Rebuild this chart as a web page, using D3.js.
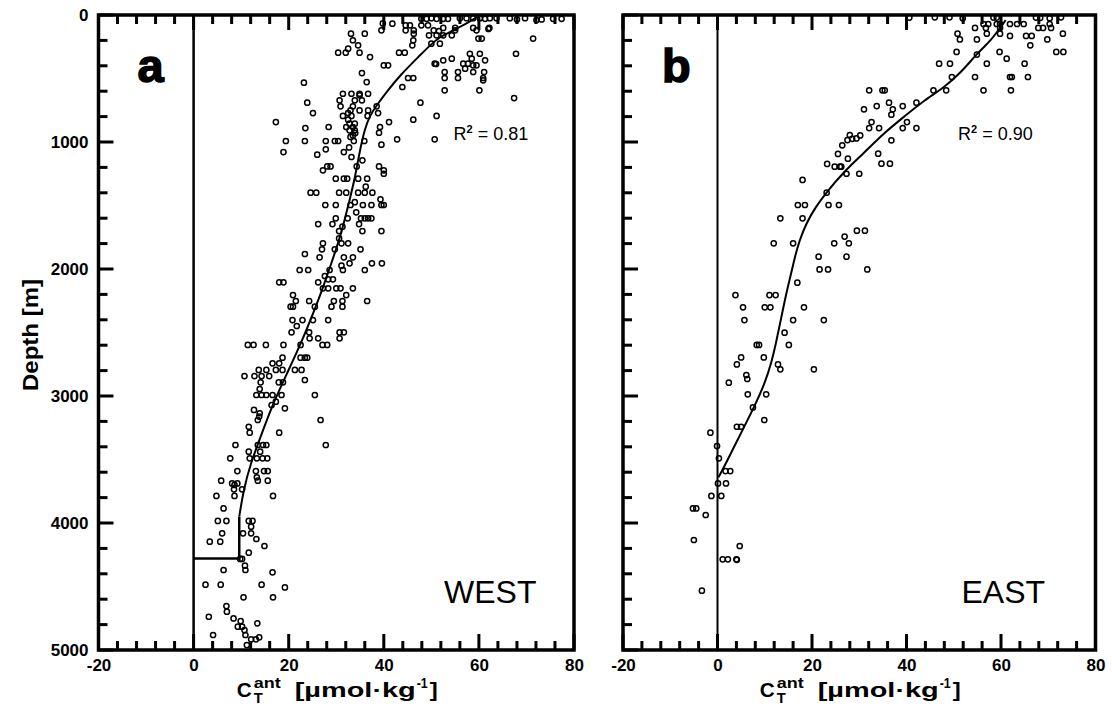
<!DOCTYPE html>
<html><head><meta charset="utf-8">
<script src="https://cdn.jsdelivr.net/npm/d3@7"></script>
<style>body{margin:0;background:#fff}text{font-family:"Liberation Sans",Arial,sans-serif}</style>
</head><body><svg id="c" width="1112" height="710"></svg>
<script>
// ---------- data ----------
const xMajorTicks = [-20, 0, 20, 40, 60, 80];
const yMajorTicks = [0, 1000, 2000, 3000, 4000, 5000];
const xMinorStep = 4;
const yMinorStep = 200;
const panelLetters = ["a", "b"];
const regionNames = ["WEST", "EAST"];
const r2Values = ["0.81", "0.90"];

// WEST: [C_T^ant, depth]
const westPoints = [
[39.8,66],[41.8,68],[44.6,81],[45.5,81],[47.9,81],[49.3,81],[47.9,30],[49.0,30],[50.0,25],
[51.1,30],[52.5,30],[53.5,30],[56.0,25],[57.4,25],[58.8,25],[60.2,25],[61.3,30],[62.3,25],[63.7,25],[66.5,25],[68.0,35],[69.7,25],[72.1,40],[73.2,35],[75.6,30],[77.4,30],
[52.5,102],[55.0,102],[58.8,102],[62.0,110],[62.2,102],
[39.5,121],[44.6,121],[46.3,121],[50.5,121],[51.6,126],[55.0,121],[59.5,121],
[33.1,147],[36.0,147],[46.3,147],[49.5,160],[51.1,160],[52.5,160],[54.3,160],
[33.5,199],[46.2,199],[59.9,186],[60.6,186],[71.4,186],
[34.6,239],[46.0,239],[50.0,226],[51.8,226],[32.5,265],
[30.4,297],[32.0,297],[34.9,297],[43.2,297],[44.4,297],
[58.1,305],[60.2,305],[67.8,305],[37.1,331],
[54.3,344],[58.5,344],[52.5,357],[61.3,357],
[50.7,383],[51.0,386],[56.7,383],[57.7,383],[40.0,396],[40.9,396],[58.8,396],[59.5,396],[57.1,423],
[52.8,449],[55.6,449],[58.8,449],[61.1,449],[35.4,457],
[45.1,496],[46.2,496],[52.8,496],[55.6,496],[60.9,496],[60.9,514],
[36.4,528],[23.2,533],[43.9,567],[52.8,593],[60.1,593],
[31.4,620],[33.2,620],[34.9,620],[36.7,620],[34.9,632],
[30.7,672],[33.9,672],[35.4,672],[23.9,690],[47.7,690],[67.4,654],
[30.9,719],[33.5,719],[38.5,719],[33.0,751],[34.9,751],[36.7,751],
[25.1,772],[32.5,772],[38.8,772],[31.4,795],[33.2,795],[36.6,795],[51.1,795],
[32.5,824],[46.2,824],[17.3,843],[41.1,843],[32.8,856],[33.9,856],
[28.4,882],[32.1,882],[33.5,882],[39.2,882],[23.5,890],
[32.8,908],[33.9,908],[39.0,927],[33.5,948],[33.0,960],[34.0,930],
[42.8,979],[50.7,979],
[19.4,992],[23.4,992],[27.8,992],[29.7,992],[30.4,992],[33.7,992],[35.9,992],
[39.5,1021],[32.7,1043],[27.8,1058],[18.9,1079],[31.6,1079],[26.0,1100],[33.2,1118],[35.5,1144],
[28.1,1192],[28.8,1192],[34.3,1192],[39.0,1192],
[27.2,1223],[40.0,1223],[40.0,1250],
[29.9,1289],[31.6,1289],[32.3,1289],[34.6,1289],[36.5,1289],
[36.2,1352],
[24.6,1399],[25.8,1399],[30.6,1399],[32.1,1399],[34.6,1399],[36.0,1399],[37.6,1399],
[39.3,1451],[33.9,1474],
[27.7,1496],[29.9,1496],[33.0,1496],[35.6,1496],[37.4,1496],[39.5,1496],[40.0,1496],
[34.2,1554],
[29.9,1601],[32.4,1601],[35.2,1601],[36.0,1601],[36.7,1601],[37.4,1601],
[26.2,1646],[29.2,1646],[34.8,1646],[31.3,1667],
[30.6,1701],[35.5,1701],[39.5,1701],[30.6,1759],
[27.2,1798],[31.1,1798],[32.5,1798],[27.0,1845],[29.7,1845],[35.1,1845],
[23.4,1882],[26.5,1908],[31.6,1908],[33.5,1908],
[32.8,1955],[39.6,1955],[37.5,1955],[31.1,1974],
[22.3,2008],[24.1,2008],[28.6,2008],[31.4,2008],[36.0,2008],
[27.6,2055],[29.3,2081],[28.3,2081],[18.0,2105],[18.9,2105],[26.2,2105],
[27.2,2152],[28.3,2152],[30.0,2152],[30.9,2152],[33.5,2152],
[20.9,2205],[32.1,2205],
[21.5,2252],[24.3,2252],[29.5,2252],[31.3,2252],[36.5,2252],
[20.4,2297],[20.9,2297],[25.5,2297],[29.0,2297],[31.3,2297],
[20.8,2402],[22.9,2402],[25.1,2402],[28.3,2402],[21.7,2449],
[20.6,2499],[24.3,2499],[30.7,2499],[31.6,2499],
[24.4,2546],[26.2,2546],[30.7,2546],
[11.4,2598],[12.6,2598],[15.2,2598],[18.9,2598],[22.5,2598],[27.1,2598],[28.1,2598],
[18.7,2698],[22.5,2698],[23.4,2698],[23.9,2698],[16.6,2743],[18.0,2743],
[13.7,2795],[15.3,2795],[17.3,2795],[18.7,2795],[21.3,2795],[22.7,2795],
[10.7,2843],[12.8,2843],[14.3,2843],[15.9,2843],[23.4,2874],
[14.1,2892],[17.9,2892],[18.8,2892],[13.9,2945],
[13.2,2992],[14.3,2992],[15.3,2992],[16.6,2992],[18.5,2992],[25.5,2992],
[17.3,3045],[16.4,3071],[19.2,3097],[12.7,3110],[13.9,3136],[13.8,3162],[13.5,3189],[26.7,3189],
[11.6,3242],[11.8,3289],[18.0,3289],
[8.8,3386],[13.5,3386],[14.6,3386],[15.3,3386],[27.8,3386],
[11.6,3438],[14.0,3438],
[7.7,3491],[11.8,3491],[13.3,3491],[14.5,3491],[15.5,3491],
[9.2,3591],[13.1,3591],[14.8,3591],[15.6,3591],[13.3,3640],
[5.8,3667],[15.6,3667],[13.5,3667],[8.1,3688],[9.2,3688],[8.6,3700],
[8.5,3735],[10.2,3735],[4.8,3787],[8.6,3787],[16.7,3787],[6.3,3885],
[5.1,3984],[6.9,3984],[11.6,3984],[12.4,3984],[12.1,4029],
[6.0,4081],[10.4,4081],[12.1,4081],[13.2,4126],[3.4,4147],[5.6,4147],[14.9,4181],
[11.6,4234],[9.8,4283],[10.2,4283],[10.8,4336],
[6.3,4370],[10.9,4370],[16.6,4388],
[2.5,4486],[5.7,4486],[14.3,4486],[19.2,4507],[10.5,4585],[16.7,4585],
[6.9,4654],[7.0,4698],[3.2,4738],[8.4,4751],[9.9,4772],[13.4,4790],
[9.3,4816],[10.2,4816],[10.7,4843],[4.1,4882],[10.9,4882],[13.8,4900],[12.1,4916],[13.1,4916],[11.2,4961]
];

// EAST: [C_T^ant, depth]
const eastPoints = [
[40.6,20],[46.0,18],[49.1,18],[51.9,25],[58.4,20],[59.1,20],[67.4,20],[68.3,22],[70.3,25],[72.7,18],
[56.3,71],[57.3,71],[59.1,71],[59.8,71],[61.9,71],[63.4,71],[64.8,71],[70.3,71],
[54.5,102],[56.8,102],[59.8,102],[67.9,102],[68.9,102],[70.6,102],
[50.8,147],[57.0,147],[59.8,147],[73.1,147],
[61.9,165],[65.3,165],[66.5,165],[51.3,192],[54.9,192],[69.8,192],[66.2,239],
[50.6,291],[59.7,291],[71.7,291],[73.2,291],[54.9,312],[61.2,344],
[46.9,383],[49.2,383],[57.0,383],[65.0,383],
[49.6,488],[54.5,488],[61.9,488],[62.3,488],[65.7,488],
[32.1,593],[34.9,593],[35.4,593],[45.7,593],[48.4,593],[56.3,593],[62.1,593],
[36.3,690],[42.1,690],[33.7,717],[39.2,717],[31.0,743],[37.1,743],[36.8,785],
[32.6,843],[40.1,843],[32.1,890],[34.2,890],[39.2,890],[42.1,890],
[30.2,948],[28.0,945],[29.4,972],[28.5,975],[27.5,985],[36.8,987],[26.4,1026],
[34.0,1092],[25.5,1094],[27.6,1131],[34.7,1171],[36.5,1171],[23.2,1173],
[24.8,1194],[25.9,1194],[26.2,1194],[27.3,1250],[30.0,1250],
[18.0,1299],[23.1,1399],
[17.0,1496],[18.5,1496],[23.5,1496],[25.7,1496],[13.3,1601],[18.0,1601],
[29.5,1698],[31.2,1698],[26.9,1745],
[11.9,1798],[16.0,1798],[24.7,1798],[27.8,1798],[21.4,1903],[27.3,1903],
[21.6,2003],[23.4,2003],[31.7,2003],[16.9,2108],
[3.8,2205],[11.0,2205],[12.3,2205],
[5.4,2302],[10.0,2302],[11.2,2302],[18.3,2302],
[5.7,2402],[16.0,2402],[22.5,2402],[14.2,2501],
[8.3,2598],[8.8,2598],[15.1,2598],[5.0,2696],[9.8,2696],
[4.1,2751],[12.8,2751],[13.3,2790],[20.4,2790],
[6.1,2835],[6.3,2866],[2.4,2895],[6.4,2987],[10.3,2987],
[7.5,3090],[9.9,3189],[4.1,3242],[5.0,3242],
[-1.5,3289],[-0.1,3394],[0.3,3491],[1.7,3591],[2.7,3591],
[0.1,3688],[1.8,3688],[-1.3,3787],[0.8,3787],
[-5.2,3885],[-4.5,3885],[-2.5,3937],[-5.0,4134],[4.7,4181],
[1.1,4286],[2.2,4286],[4.0,4286],[4.1,4290],[-3.3,4533]
];

// fitted curves [C_T^ant, depth]
const westFit = [[60.2,0],[58.1,55],[53.9,134],[51.8,173],[49.7,239],[47.6,318],[43.4,475],[40.6,606],[38.5,711],[37.1,790],[36.0,895],[34.9,1079],[33.9,1289],[32.8,1457],[31.1,1717],[29.0,1953],[26.8,2190],[24.6,2400],[22.4,2600],[19.8,2810],[16.8,3050],[14.1,3320],[12.0,3530],[10.5,3740],[9.6,3950]];
const westFitBase = [[9.6,3950],[9.6,4280],[0,4280]];
const eastFit = [[61,40],[59.8,100],[57.9,200],[55,300],[51.6,450],[48,570],[43.8,670],[39.5,800],[35.2,930],[30.9,1090],[26.6,1240],[23.2,1390],[20.6,1520],[18.8,1640],[17.4,1770],[16.4,1900],[15.5,2050],[14.5,2200],[13.4,2400],[12.4,2580],[11.4,2740],[10,2900],[8.2,3050],[6.1,3210],[3.9,3370],[1.8,3530],[0.2,3640]];

// ---------- drawing ----------
const svg = d3.select("#c");
const FONT = '"Liberation Sans", Arial, sans-serif';
const plotTop = 15, plotBottom = 650;

const panels = [
  {left: 98.5, right: 574, points: westPoints, fit: westFit, base: westFitBase, showY: true, zeroW: 2.5},
  {left: 623, right: 1095.5, points: eastPoints, fit: eastFit, base: null, showY: false, zeroW: 2}
];

panels.forEach((p, i) => {
  const x = d3.scaleLinear().domain([-20, 80]).range([p.left, p.right]);
  const y = d3.scaleLinear().domain([0, 5000]).range([plotTop, plotBottom]);
  const g = svg.append("g");

  const allX = d3.range(-20, 81, xMinorStep);
  const allY = d3.range(0, 5001, yMinorStep);
  const isMajX = v => Math.abs(v % 20) < 1e-9;
  const isMajY = v => Math.abs(v % 1000) < 1e-9;

  const labelStyle = a => {
    a.select(".domain").remove();
    a.selectAll(".tick line").remove();
    a.selectAll(".tick text").attr("font-family", FONT).attr("font-size", 17).attr("font-weight", "bold").attr("fill", "#000");
  };
  g.append("g").attr("transform", `translate(0,${plotBottom})`)
    .call(d3.axisBottom(x).tickValues(xMajorTicks).tickSize(0).tickPadding(9).tickFormat(v => String(v)))
    .call(labelStyle);
  if (p.showY) {
    g.append("g").attr("transform", `translate(${p.left},0)`)
      .call(d3.axisLeft(y).tickValues(yMajorTicks).tickSize(0).tickPadding(10).tickFormat(v => String(v)))
      .call(labelStyle);
  }

  g.append("line").attr("x1", x(0)).attr("x2", x(0)).attr("y1", plotTop).attr("y2", plotBottom)
    .attr("stroke", "#000").attr("stroke-width", p.zeroW);

  const line = d3.line().x(d => x(d[0])).y(d => y(d[1])).curve(d3.curveBasis);
  g.append("path").attr("d", line(p.fit)).attr("fill", "none").attr("stroke", "#000").attr("stroke-width", 2);
  if (p.base) {
    g.append("path").attr("d", d3.line().x(d => x(d[0])).y(d => y(d[1]))(p.base))
      .attr("fill", "none").attr("stroke", "#000").attr("stroke-width", 2.5);
  }

  g.append("g").selectAll("circle").data(p.points).join("circle")
    .attr("cx", d => x(d[0])).attr("cy", d => y(d[1])).attr("r", 2.6)
    .attr("fill", "none").attr("stroke", "#000").attr("stroke-width", 1.5);

  g.append("rect").attr("x", p.left).attr("y", plotTop).attr("width", p.right - p.left).attr("height", plotBottom - plotTop)
    .attr("fill", "none").attr("stroke", "#000").attr("stroke-width", 3.5);

  // inward ticks
  g.append("g").selectAll("line").data(allX).join("line")
    .attr("x1", d => x(d)).attr("x2", d => x(d))
    .attr("y1", plotBottom).attr("y2", d => plotBottom - (isMajX(d) ? 16 : 9))
    .style("stroke", "#000").style("stroke-width", "3px");
  g.append("g").selectAll("line").data(allX).join("line")
    .attr("x1", d => x(d)).attr("x2", d => x(d))
    .attr("y1", plotTop).attr("y2", d => plotTop + (isMajX(d) ? 15 : 9))
    .style("stroke", "#000").style("stroke-width", "3px");
  g.append("g").selectAll("line").data(allY).join("line")
    .attr("x1", p.left).attr("x2", d => p.left + (isMajY(d) ? 15 : 9))
    .attr("y1", d => y(d)).attr("y2", d => y(d))
    .style("stroke", "#000").style("stroke-width", "3px");

  g.append("text").attr("x", p.left + 39).attr("y", 82).text(panelLetters[i])
    .attr("font-family", FONT).attr("font-weight", "bold").attr("font-size", 47)
    .attr("stroke", "#000").attr("stroke-width", 1.5).attr("fill", "#000");

  const rt = g.append("text").attr("x", p.left + (i === 0 ? 355 : 335)).attr("y", 140)
    .attr("font-family", FONT).attr("font-size", 18).attr("fill", "#000");
  rt.append("tspan").text("R");
  rt.append("tspan").attr("dy", -7).attr("font-size", 11).attr("font-weight", "bold").text("2");
  rt.append("tspan").attr("dy", 7).text("\u00a0=\u00a0" + r2Values[i]);

  g.append("text").attr("x", p.right - (i === 0 ? 130 : 134)).attr("y", 603).text(regionNames[i])
    .attr("font-family", FONT).attr("font-size", 32).attr("fill", "#000");

  // x title: C_T^ant [µmol·kg^-1]
  const tg = g.append("g");
  const add = (txt, dx, dy, fsz, len) => {
    const t = tg.append("text").attr("x", dx).attr("y", dy).attr("font-size", fsz)
      .attr("font-weight", "bold").attr("font-family", FONT).attr("fill", "#000").text(txt);
    if (len) t.attr("textLength", len).attr("lengthAdjust", "spacingAndGlyphs");
    return t;
  };
  add("C", 0, 0, 21, 15);
  add("T", 17, 6, 14, 9);
  add("ant", 17, -9, 15, 27);
  add("[µmol·kg", 58, 0, 21, 121);
  add("-1", 180, -9, 14, 11);
  add("]", 193, 0, 21, 8);
  const totalW = 201;
  tg.attr("transform", `translate(${(p.left + p.right) / 2 - totalW / 2 + 1},697)`);
});

svg.append("text").attr("transform", "translate(38,335) rotate(-90)").attr("text-anchor", "middle")
  .attr("font-family", FONT).attr("font-weight", "bold").attr("font-size", 22).attr("fill", "#000")
  .attr("textLength", 112).attr("lengthAdjust", "spacingAndGlyphs")
  .text("Depth [m]");
</script>
</body></html>
